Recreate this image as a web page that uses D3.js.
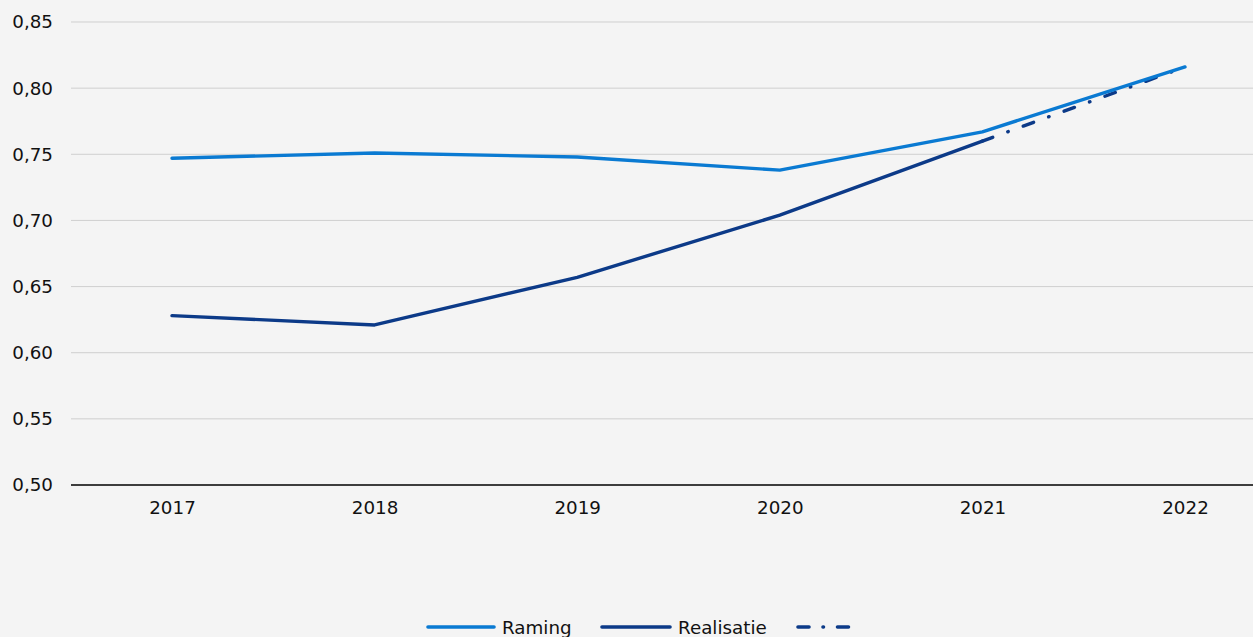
<!DOCTYPE html>
<html><head><meta charset="utf-8">
<script src="https://cdn.jsdelivr.net/npm/d3@7"></script>
<style>
html,body{margin:0;padding:0;background:#f4f4f4;overflow:hidden}
svg{display:block;font-family:"DejaVu Sans",Verdana,sans-serif}
</style></head><body>
<script>
const years = ["2017","2018","2019","2020","2021","2022"];
const raming = [0.747, 0.751, 0.748, 0.738, 0.767, 0.816];
const realisatie = [0.628, 0.621, 0.657, 0.704, 0.760, null];
const prognose = [null, null, null, null, 0.760, 0.816];
const yTicks = [0.50, 0.55, 0.60, 0.65, 0.70, 0.75, 0.80, 0.85];
const seriesNames = ["Raming", "Realisatie", ""];

const W = 1253, H = 637;
const colRaming = "#0a7ad2", colReal = "#0c3a88";
const svg = d3.select("body").append("svg").attr("width", W).attr("height", H);
svg.append("rect").attr("width", W).attr("height", H).attr("fill", "#f4f4f4");

const x = d3.scalePoint().domain(years).range([172, 1185]);
const y = d3.scaleLinear().domain([0.5, 0.85]).range([485, 22]);
const fmt = v => d3.format(".2f")(v).replace(".", ",");

// gridlines
svg.append("g").selectAll("line").data(yTicks.filter(t => t > 0.5)).join("line")
  .attr("x1", 71).attr("x2", W).attr("y1", d => y(d)).attr("y2", d => y(d))
  .attr("stroke", "#cfcfcf").attr("stroke-width", 1);

// y labels
const yAxis = svg.append("g").attr("transform", "translate(71,0)")
  .call(d3.axisLeft(y).tickValues(yTicks).tickFormat(fmt).tickSize(0).tickPadding(18));
yAxis.select(".domain").remove();
yAxis.selectAll("text").attr("font-size", 18.3).attr("fill", "#111").attr("font-family", "DejaVu Sans, Verdana, sans-serif");

// x axis
const xAxis = svg.append("g").attr("transform", "translate(0,485)")
  .call(d3.axisBottom(x).tickSize(0).tickPadding(16));
xAxis.select(".domain").remove();
xAxis.selectAll("text").attr("font-size", 18.3).attr("fill", "#111").attr("font-family", "DejaVu Sans, Verdana, sans-serif");
svg.append("line").attr("x1", 71).attr("x2", W).attr("y1", y(0.5)).attr("y2", y(0.5))
  .attr("stroke", "#000").attr("stroke-width", 1.5);

const lineI = (arr) => d3.line().defined(d => d[1] != null).x(d => x(d[0])).y(d => y(d[1]))(years.map((yr, i) => [yr, arr[i]]));

svg.append("path").attr("d", lineI(prognose)).attr("fill", "none")
  .attr("stroke", colReal).attr("stroke-width", 3.4).attr("stroke-linecap", "round")
  .attr("stroke-dasharray", "11,16,0.5,16");
svg.append("path").attr("d", lineI(realisatie)).attr("fill", "none")
  .attr("stroke", colReal).attr("stroke-width", 3.4).attr("stroke-linecap", "round").attr("stroke-linejoin", "round");
svg.append("path").attr("d", lineI(raming)).attr("fill", "none")
  .attr("stroke", colRaming).attr("stroke-width", 3.4).attr("stroke-linecap", "round").attr("stroke-linejoin", "round");

// legend
const leg = svg.append("g");
const items = [
  {name: seriesNames[0], col: colRaming, dash: null, x0: 428, x1: 494, tx: 502},
  {name: seriesNames[1], col: colReal, dash: null, x0: 602, x1: 670, tx: 678},
  {name: seriesNames[2], col: colReal, dash: "11,14,0.5,14", x0: 798, x1: 857, tx: 865}
];
items.forEach(it => {
  leg.append("line").attr("x1", it.x0).attr("x2", it.x1).attr("y1", 627).attr("y2", 627)
    .attr("stroke", it.col).attr("stroke-width", 3.6).attr("stroke-linecap", "round")
    .attr("stroke-dasharray", it.dash);
  if (it.name) leg.append("text").attr("x", it.tx).attr("y", 634).attr("font-size", 18.3)
    .attr("fill", "#111").text(it.name);
});
</script>
</body></html>
